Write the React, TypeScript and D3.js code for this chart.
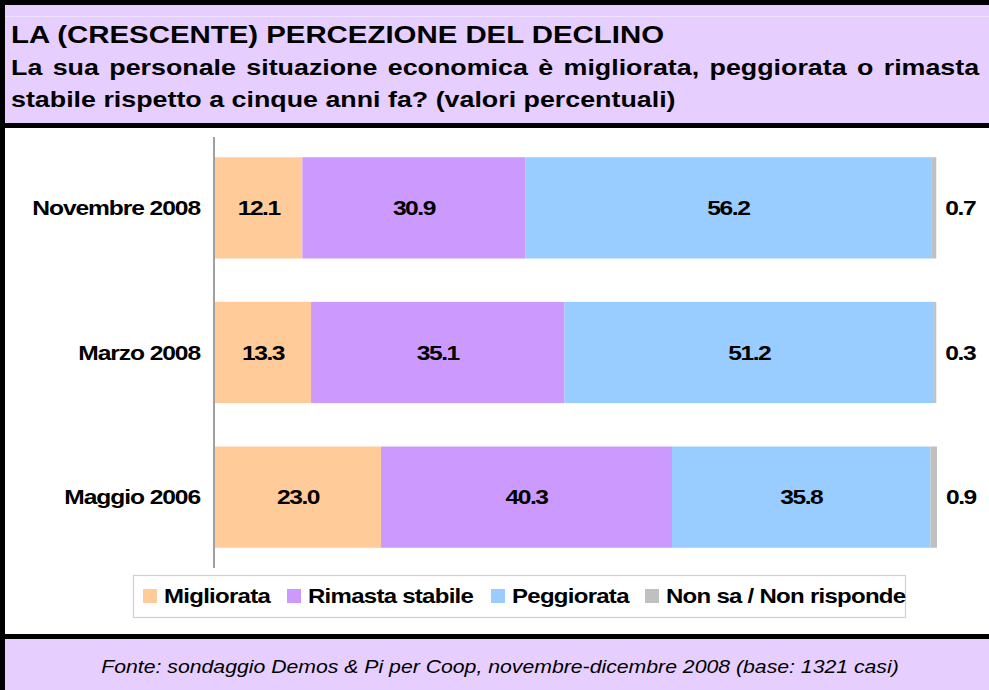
import React from 'react'
import * as d3 from 'd3'

const width = 989
const height = 690

const categories = ['Novembre 2008', 'Marzo 2008', 'Maggio 2006']
const seriesNames = ['Migliorata', 'Rimasta stabile', 'Peggiorata', 'Non sa / Non risponde']
const migliorata = [12.1, 13.3, 23.0]
const rimasta = [30.9, 35.1, 40.3]
const peggiorata = [56.2, 51.2, 35.8]
const nonSa = [0.7, 0.3, 0.9]
const colors = ['#FFCC99', '#CC99FF', '#99CCFF', '#C0C0C0']

const title = 'LA (CRESCENTE) PERCEZIONE DEL DECLINO'
const subtitle = [
  'La sua personale situazione economica è migliorata, peggiorata o rimasta',
  'stabile rispetto a cinque anni fa? (valori percentuali)'
]
const source = 'Fonte: sondaggio Demos & Pi per Coop, novembre-dicembre 2008 (base: 1321 casi)'

const lavender = '#E6CEFF'
const font = '"Liberation Sans", Arial, sans-serif'

// the picture is stretched a bit horizontally, so text gets scaled the same way
const SText = ({ x, y, anchor = 'start', size, weight = 'bold', italic = false, spacing = 0, wordSpacing = 0, sx = 1.2, children }: any) => (
  <g transform={`translate(${x},${y}) scale(${sx},1)`}>
    <text
      textAnchor={anchor}
      fontFamily={font}
      fontSize={size}
      fontWeight={weight}
      fontStyle={italic ? 'italic' : 'normal'}
      letterSpacing={spacing}
      wordSpacing={wordSpacing}
      fill="#000"
    >
      {children}
    </text>
  </g>
)

const App = () => {
  const rows = categories.map((c, i) => ({
    cat: c,
    [seriesNames[0]]: migliorata[i],
    [seriesNames[1]]: rimasta[i],
    [seriesNames[2]]: peggiorata[i],
    [seriesNames[3]]: nonSa[i]
  }))

  const stacked = d3.stack<any>().keys(seriesNames)(rows)

  const xScale = d3.scaleLinear().domain([0, 100]).range([215, 937])
  const yScale = d3.scaleBand().domain(categories).range([137, 568]).paddingInner(0.3).paddingOuter(0.14)

  const legendX = [143, 287, 491, 645]

  return (
    <svg width={width} height={height} style={{ position: 'absolute', left: 0, top: 0, display: 'block' }}>
      <rect x={0} y={0} width={width} height={height} fill="#000" />
      <rect x={5} y={5} width={width - 5} height={118} fill={lavender} />
      <line x1={5} x2={width} y1={16.5} y2={16.5} stroke="#EFE3FF" strokeWidth={1} />
      <rect x={5} y={128} width={width - 5} height={506} fill="#fff" />
      <rect x={5} y={639} width={width - 5} height={51} fill={lavender} />

      <SText x={11} y={43} size={24.5} sx={1.2}>{title}</SText>
      <SText x={11} y={75} size={22} sx={1.22} wordSpacing={2.4}>{subtitle[0]}</SText>
      <SText x={11} y={107} size={22} sx={1.22}>{subtitle[1]}</SText>

      {stacked.map((s, si) =>
        s.map((d, i) => (
          <rect
            key={si + '-' + i}
            x={xScale(d[0])}
            y={yScale(categories[i])}
            width={xScale(d[1]) - xScale(d[0])}
            height={yScale.bandwidth()}
            fill={colors[si]}
          />
        ))
      )}

      <line x1={214} x2={214} y1={137} y2={568} stroke="#808080" strokeWidth={1.5} />

      {categories.map(c => (
        <SText key={c} x={200} y={yScale(c)! + yScale.bandwidth() / 2 + 7} anchor="end" size={20.5} spacing={-0.9}>
          {c}
        </SText>
      ))}

      {stacked.map((s, si) =>
        s.map((d, i) => {
          const cy = yScale(categories[i])! + yScale.bandwidth() / 2 + 7
          const v = d[1] - d[0]
          if (si === 3) {
            return (
              <SText key={'l' + si + i} x={xScale(d[1]) + 9} y={cy} size={20.5} spacing={-1.2}>
                {v.toFixed(1)}
              </SText>
            )
          }
          return (
            <SText key={'l' + si + i} x={(xScale(d[0]) + xScale(d[1])) / 2} y={cy} anchor="middle" size={20.5} spacing={-1.2}>
              {v.toFixed(1)}
            </SText>
          )
        })
      )}

      <rect x={133.5} y={575.5} width={772} height={42} fill="#fff" stroke="#D0D0D0" strokeWidth={1.2} />
      {seriesNames.map((n, i) => (
        <g key={n}>
          <rect x={legendX[i]} y={589} width={14} height={14} fill={colors[i]} />
          <SText x={legendX[i] + 21} y={603} size={20} spacing={-0.6}>{n}</SText>
        </g>
      ))}

      <SText x={500} y={673} anchor="middle" size={18} weight="normal" italic sx={1.18}>{source}</SText>
    </svg>
  )
}

export default App
